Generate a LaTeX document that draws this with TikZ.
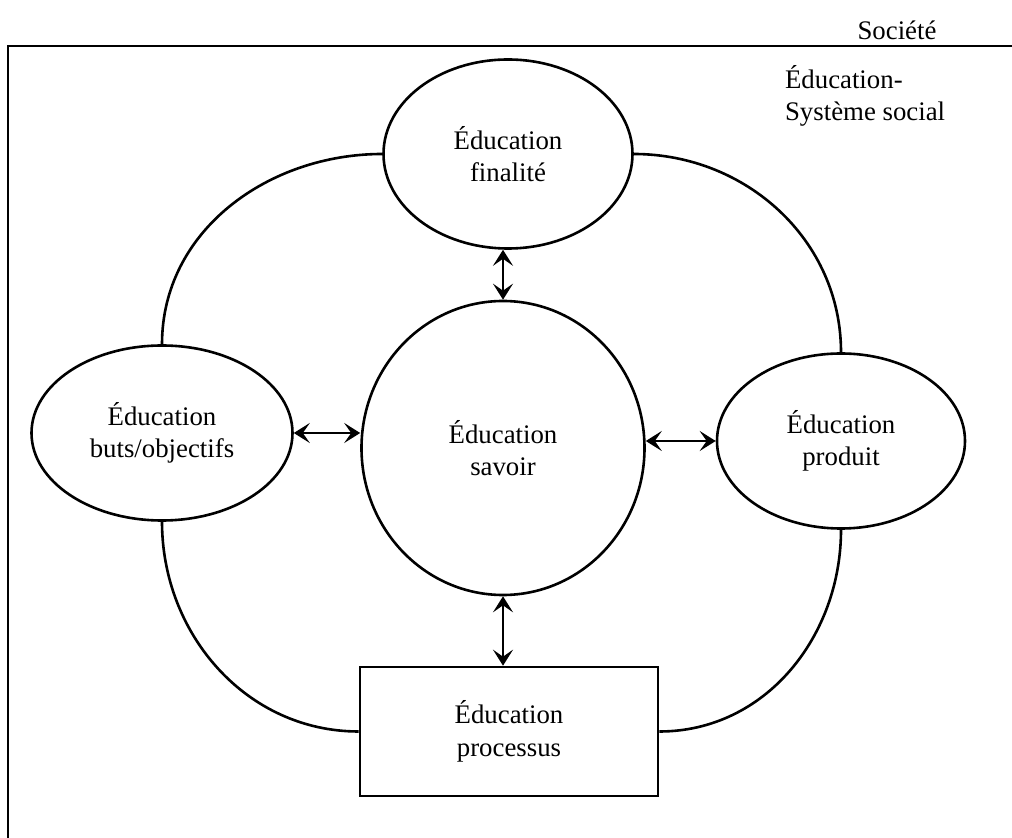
\documentclass[tikz,border=0pt]{standalone}
\usepackage{fontspec}
\setmainfont{Liberation Serif}
\usetikzlibrary{shapes.geometric, arrows.meta, positioning}

\begin{document}
\begin{tikzpicture}[x=0.5pt, y=-0.5pt,
  bulle/.style={ellipse, draw, line width=1.3pt, inner sep=0pt, align=center,
    font=\fontsize{13.4}{16}\selectfont},
  boite/.style={rectangle, draw, line width=1.3pt, inner sep=0pt, align=center,
    font=\fontsize{13.4}{16.5}\selectfont},
  lien/.style={line width=1.3pt},
  fleche/.style={line width=1.3pt,
    {Stealth[length=8pt, width=10pt, inset=3.5pt]}-{Stealth[length=8pt, width=10pt, inset=3.5pt]}}]
\useasboundingbox (0,0) rectangle (1012,838);

% Cadre de la societe
\draw[line width=1.4pt] (8,838) |- (1012,46);
\node[font=\fontsize{13.4}{16}\selectfont] (soc) at (897,30) {Société};
\node[anchor=west, align=left, font=\fontsize{13.4}{16}\selectfont] (sys) at (778,96) {Éducation-\\Système social};

% Les cinq poles
\node[bulle, minimum width=124.5pt, minimum height=94.5pt] (fin) at (508,154) {Éducation\\finalité};
\node[bulle, minimum width=141.5pt, minimum height=147pt] (sav) at (503,448) {Éducation\\savoir};
\node[bulle, minimum width=130.5pt, minimum height=87.5pt] (buts) at (162,433) {Éducation\\buts/objectifs};
\node[bulle, minimum width=124pt, minimum height=87.5pt] (prod) at (841,441) {Éducation\\produit};
\node[boite, minimum width=149pt, minimum height=64.5pt] (proc) at (509,731.5) {Éducation\\processus};

% Boucle exterieure
\draw[lien] (fin.west) to[out=180, in=90] (buts.north);
\draw[lien] (fin.east) to[out=0, in=90] (prod.north);
\draw[lien] (buts.south) to[out=-90, in=180] (proc.west);
\draw[lien] (prod.south) to[out=-90, in=0] (proc.east);

% Echanges avec le savoir
\draw[fleche] (fin.south -| sav.north) -- (sav.north);
\draw[fleche] (sav.south) -- (sav.south |- proc.north);
\draw[fleche] (buts.east) -- (sav.west |- buts.east);
\draw[fleche] (sav.east |- prod.west) -- (prod.west);
\end{tikzpicture}
\end{document}
